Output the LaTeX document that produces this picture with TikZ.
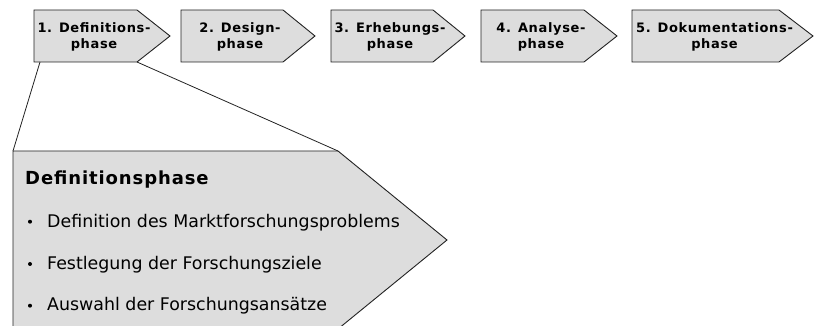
\documentclass[tikz,border=0pt]{standalone}
\usepackage{fontspec}
\setmainfont{DejaVu Sans}
\newfontfamily\labelfont{DejaVu Sans}[LetterSpace=5]
\newfontfamily\headfont{DejaVu Sans}[LetterSpace=5]
\definecolor{boxfill}{HTML}{DDDDDD}
\definecolor{edgegray}{HTML}{222222}

\begin{document}
\begin{tikzpicture}[x=1pt,y=-1pt,
  phaseshape/.style={draw=edgegray, fill=boxfill, line width=0.9pt, line join=miter},
  phaselabel/.style={font=\labelfont\bfseries\fontsize{13}{16}\selectfont, align=center, inner sep=0pt, anchor=base},
  zoomline/.style={draw=edgegray, line width=0.8pt},
  headline/.style={font=\headfont\bfseries\fontsize{18}{20}\selectfont, inner sep=0pt, anchor=base west},
  itemtext/.style={font=\fontsize{17.4}{20}\selectfont, inner sep=0pt, anchor=base west},
  dot/.style={circle, fill=black, inner sep=0pt, minimum size=4pt}]
\useasboundingbox (0,0) rectangle (815,326);
\clip (0,0) rectangle (815,326);

% process chain: five phase arrows (label anchored at the baseline of its last line)
\foreach \n/\l/\r/\t/\txt in {
    1/34/137/170/{1. Definitions-\\phase},
    2/181/283/315/{2. Design-\\phase},
    3/331/433/465/{3. Erhebungs-\\phase},
    4/481/584/617/{4. Analyse-\\phase},
    5/632/779/813/{5. Dokumentations-\\phase}} {
  \coordinate (p\n-nw) at (\l,10);
  \coordinate (p\n-ne) at (\r,10);
  \coordinate (p\n-tip) at (\t,36);
  \coordinate (p\n-se) at (\r,62);
  \coordinate (p\n-sw) at (\l,62);
  \draw[phaseshape] (p\n-nw) -- (p\n-ne) -- (p\n-tip) -- (p\n-se) -- (p\n-sw) -- cycle;
  \node[phaselabel] (lab\n) at ({(\l+\t)/2-8},49) {\txt};
}

% enlarged view of the first phase
\coordinate (d-nw) at (13,151);
\coordinate (d-ne) at (338,151);
\coordinate (d-tip) at (447,240);
\coordinate (d-se) at (338,329);
\coordinate (d-sw) at (13,329);
\draw[phaseshape] (d-nw) -- (d-ne) -- (d-tip) -- (d-se) -- (d-sw) -- cycle;

% zoom lines from the first phase to its detail view
\coordinate (z-left) at (40,62);
\draw[zoomline] (z-left) -- (d-nw);
\draw[zoomline] (p1-se) -- (d-ne);

\node[headline] (head) at (25,185) {Definitionsphase};

\node[dot] (b1) at (30,221.7) {};
\node[itemtext] (i1) at (47,227.3) {Definition des Marktforschungsproblems};
\node[dot] (b2) at (30,264) {};
\node[itemtext] (i2) at (47,269.3) {Festlegung der Forschungsziele};
\node[dot] (b3) at (30,305.7) {};
\node[itemtext] (i3) at (47,310.7) {Auswahl der Forschungsansätze};
\end{tikzpicture}
\end{document}
